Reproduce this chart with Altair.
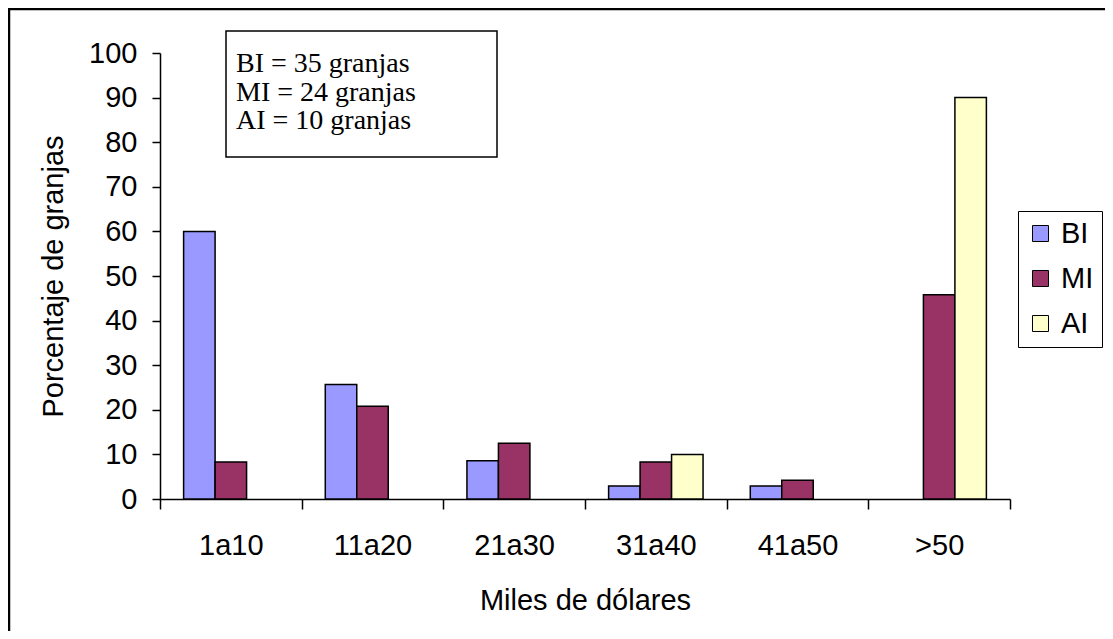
import altair as alt
import pandas as pd

categories = ["1a10", "11a20", "21a30", "31a40", "41a50", ">50"]
series = ["BI", "MI", "AI"]
bi_values = [60, 25.7, 8.6, 2.9, 2.9, 0]
mi_values = [8.3, 20.8, 12.5, 8.3, 4.2, 45.8]
ai_values = [0, 0, 0, 10, 0, 90]
colors = ["#9999FF", "#993366", "#FFFFCC"]
y_ticks = list(range(0, 101, 10))
note_lines = ["BI = 35 granjas", "MI = 24 granjas", "AI = 10 granjas"]

rows = []
for i, c in enumerate(categories):
    for s, vals in zip(series, [bi_values, mi_values, ai_values]):
        rows.append({"cat": c, "serie": s, "val": vals[i]})
df = pd.DataFrame(rows)

SANS = "Liberation Sans"
SERIF = "Liberation Serif"
FS = 29

bars = alt.Chart(df).transform_filter("datum.val > 0").mark_bar(
    stroke="black", strokeWidth=1.5
).encode(
    x=alt.X("cat:N", sort=categories,
            scale=alt.Scale(domain=categories, paddingInner=0, paddingOuter=0),
            axis=alt.Axis(title="Miles de dólares", labelAngle=0, tickBand="extent",
                          tickSize=10, labelPadding=22, titlePadding=26)),
    xOffset=alt.XOffset("serie:N", sort=series,
                        scale=alt.Scale(domain=series, paddingInner=0, paddingOuter=0.75)),
    y=alt.Y("val:Q", scale=alt.Scale(domain=[0, 100], nice=False),
            axis=alt.Axis(title="Porcentaje de granjas", values=y_ticks, tickSize=8,
                          labelPadding=15, titlePadding=20)),
    color=alt.Color("serie:N", sort=series,
                    scale=alt.Scale(domain=series, range=colors),
                    legend=alt.Legend(title=None, orient="none", legendX=858, legendY=158,
                                      strokeColor="black", fillColor="white", padding=8,
                                      symbolType="square", symbolSize=256,
                                      symbolStrokeColor="black", symbolStrokeWidth=1,
                                      symbolOpacity=1, labelFontSize=FS, labelFont=SANS,
                                      labelColor="black", labelOffset=6, rowPadding=15)),
)

one = alt.Data(values=[{"k": 1}])

frame = alt.Chart(one).mark_rect(filled=False, stroke="black", strokeWidth=2.5).encode(
    x=alt.value(-151), x2=alt.value(2000), y=alt.value(-44), y2=alt.value(2000)
)

note_box = alt.Chart(one).mark_rect(fill="white", stroke="black", strokeWidth=1.5).encode(
    x=alt.value(66), x2=alt.value(337), y=alt.value(-22), y2=alt.value(104)
)

note_layers = []
for i, line in enumerate(note_lines):
    note_layers.append(
        alt.Chart(one).mark_text(text=line, font=SERIF, fontSize=28, align="left",
                                 baseline="alphabetic", color="black").encode(
            x=alt.value(76), y=alt.value(19 + 28.5 * i)
        )
    )

chart = alt.layer(frame, note_box, *note_layers, bars).properties(
    width=850, height=446,
    padding={"left": 152, "top": 45, "right": 95, "bottom": 132},
    autosize=alt.AutoSizeParams(type="none"),
).configure_view(stroke=None).configure_axis(
    grid=False, labelFont=SANS, labelFontSize=FS, labelColor="black",
    titleFont=SANS, titleFontSize=FS, titleFontWeight="normal", titleColor="black",
    domainColor="black", domainWidth=1.5, tickColor="black", tickWidth=1.5,
)

chart.save("out.html", embed_options={"renderer": "svg", "actions": False})
